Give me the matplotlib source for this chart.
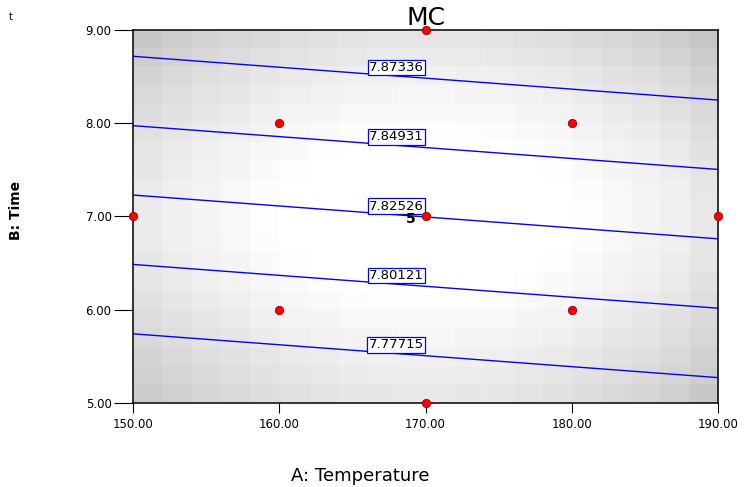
import numpy as np
import matplotlib.pyplot as plt

# design points (A: Temperature, B: Time)
temp_pts = [150, 160, 160, 170, 170, 170, 180, 180, 190]
time_pts = [7, 6, 8, 5, 7, 9, 6, 8, 7]
center_reps = 5

# linear model in coded units: MC = b0 + bA*A + bB*B
b0, bA, bB = 7.82542, 0.00759, 0.06466
levels = [7.77715, 7.80121, 7.82526, 7.84931, 7.87336]
label_temp = 168.0

# gray shading (darkness), columns left->right, rows top->bottom
shade_cols = [0.12, 0.10, 0.08, 0.065, 0.05, 0.035, 0.025, 0.015, 0.01, 0.005,
              0.005, 0.01, 0.015, 0.025, 0.035, 0.05, 0.065, 0.08, 0.10, 0.13]
shade_rows = [0.14, 0.12, 0.095, 0.075, 0.06, 0.045, 0.03, 0.02, 0.01, 0.005,
              0.005, 0.01, 0.02, 0.03, 0.045, 0.06, 0.075, 0.095, 0.11, 0.13]
shade_offset = 0.045

xticks = [150, 160, 170, 180, 190]
yticks = [5, 6, 7, 8, 9]

fig = plt.figure(figsize=(7.52, 4.87), dpi=100)
ax = fig.add_axes([0.1769, 0.1725, 0.778, 0.766])

# background
dark = np.add.outer(np.array(shade_rows), np.array(shade_cols)) - shade_offset
gray = 1 - np.clip(dark, 0, None)
ax.imshow(gray, cmap='gray', vmin=0, vmax=1, extent=[150, 190, 5, 9],
          aspect='auto', interpolation='nearest', origin='upper', zorder=0)

# contours
T, t = np.meshgrid(np.linspace(150, 190, 81), np.linspace(5, 9, 81))
Z = b0 + bA * (T - 170) / 20 + bB * (t - 7) / 2
ax.contour(T, t, Z, levels=levels, colors='blue', linewidths=1.0, zorder=2)

for lv in levels:
    y = 7 + 2 * (lv - b0 - bA * (label_temp - 170) / 20) / bB
    ax.annotate(f"{lv:.5f}", (label_temp, y), xytext=(0, 1.5),
                textcoords='offset points', ha='center', va='bottom',
                fontsize=9.5, zorder=3,
                bbox=dict(boxstyle='square,pad=0.1', fc='white', ec='blue', lw=0.9))

# design points
ax.plot(temp_pts, time_pts, 'o', color='red', mec='#a00000', mew=0.6,
        markersize=6, clip_on=False, zorder=5)
ax.annotate(str(center_reps), (170, 7), xytext=(-11, -2), textcoords='offset points',
            ha='center', va='center', fontsize=10, fontweight='bold', zorder=4)

ax.set_xlim(150, 190)
ax.set_ylim(5, 9)
ax.set_xticks(xticks)
ax.set_yticks(yticks)
ax.set_xticklabels([f"{v:.2f}" for v in xticks])
ax.set_yticklabels([f"{v:.2f}" for v in yticks])
ax.tick_params(axis='x', length=7, width=0.8, labelsize=8.5, pad=4)
ax.tick_params(axis='y', length=14, width=0.8, labelsize=8.5, pad=1.5)
for s in ax.spines.values():
    s.set_linewidth(1.1)
    s.set_color('black')
    s.set_zorder(4)

ax.set_title("MC", fontsize=18, pad=3)
ax.set_xlabel("A: Temperature", fontsize=13)
ax.xaxis.set_label_coords(0.388, -0.172)
ax.set_ylabel("B: Time", fontsize=10, fontweight='bold')
ax.yaxis.set_label_coords(-0.188, 0.517)

fig.text(0.011, 0.975, "t", fontsize=7, va='top')

fig.savefig("out.png", dpi=100)
